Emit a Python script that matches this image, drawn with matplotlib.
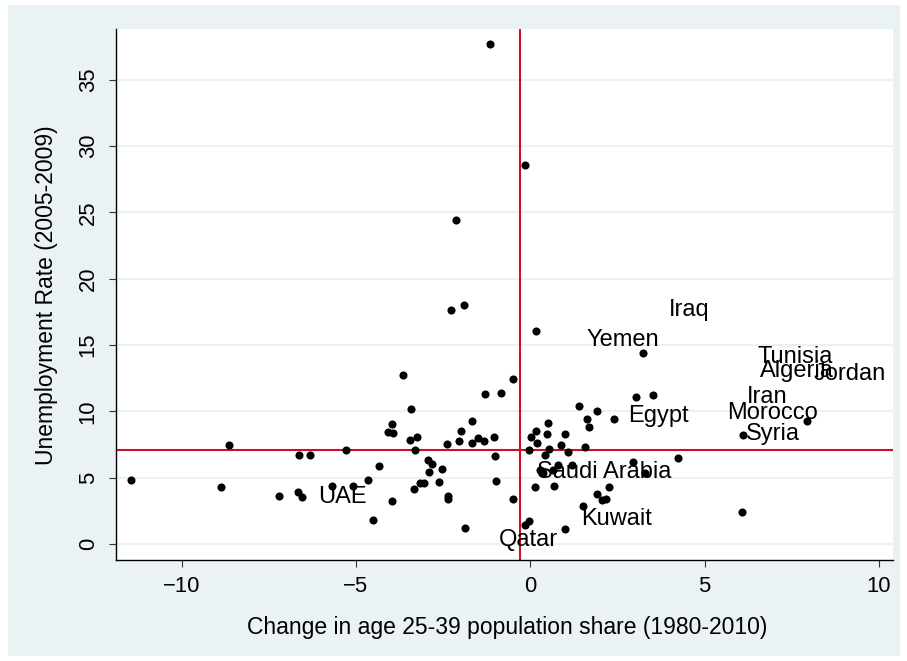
import matplotlib.pyplot as plt
from matplotlib.patches import Rectangle

plt.rcParams['font.family'] = ['Liberation Sans', 'DejaVu Sans']

# change in age 25-39 population share (1980-2010), one value per country
share_change = [-11.46, -8.88, -8.64, -7.22, -6.62, -6.32, -6.67, -6.54, -5.69, -5.28,
                -3.66, -3.43, -3.96, -4.07, -3.95, -3.45, -3.25, -3.30, -4.34, -4.66,
                -5.07, -3.97, -4.50, -2.93, -2.83, -2.54, -2.91, -3.33, -3.16, -3.05,
                -2.61, -2.35, -2.35, -1.87, -2.40, -2.04, -2.00, -1.68, -1.68, -1.51,
                -1.32, -1.04, -1.30, -0.84, -0.49, -1.01, -0.98, -0.49, -0.15, -0.04,
                -0.05, 0.02, 0.16, 0.20, 0.13, 1.39, 1.92, 1.63, 1.69, 2.40,
                0.51, 0.48, 1.00, 0.87, 0.54, 1.09, 1.58, 0.41, 0.80, 1.19,
                0.28, 0.37, 0.66, 0.68, 2.26, 1.90, 2.05, 2.17, 1.52, 0.99,
                3.24, 0.16, 3.03, 3.53, 2.95, 4.23, 3.29, 6.11, 7.92, 6.07,
                -1.16, -0.15, -2.14, -2.27, -1.89]

# unemployment rate (2005-2009)
unemployment = [4.82, 4.27, 7.46, 3.62, 6.71, 6.71, 3.90, 3.54, 4.37, 7.06,
                12.71, 10.15, 9.07, 8.46, 8.34, 7.84, 8.09, 7.08, 5.88, 4.82,
                4.37, 3.24, 1.79, 6.33, 6.03, 5.65, 5.45, 4.14, 4.57, 4.57,
                4.65, 3.62, 3.39, 1.21, 7.54, 7.74, 8.54, 9.27, 7.59, 8.01,
                7.74, 8.09, 11.30, 11.36, 12.46, 6.63, 4.72, 3.37, 1.41, 1.73,
                7.08, 8.04, 8.54, 7.59, 4.32, 10.40, 10.02, 9.42, 8.84, 9.40,
                9.14, 8.27, 8.31, 7.46, 7.14, 6.96, 7.29, 6.71, 5.95, 5.95,
                5.58, 5.33, 5.58, 4.39, 4.30, 3.75, 3.32, 3.39, 2.86, 1.11,
                14.42, 16.07, 11.06, 11.23, 6.20, 6.50, 5.33, 8.21, 9.29, 2.41,
                37.70, 28.54, 24.42, 17.63, 18.01]

# MENA labels (label layer drawn without markers)
mena_names = ['Iraq', 'Yemen', 'Egypt', 'Saudi Arabia', 'Kuwait', 'Qatar', 'UAE',
              'Tunisia', 'Algeria', 'Jordan', 'Iran', 'Morocco', 'Syria']
mena_x = [3.98, 1.62, 2.81, 0.19, 1.45, -0.90, -6.09, 6.51, 6.59, 8.11, 6.20, 5.65, 6.18]
mena_y = [17.63, 15.37, 9.65, 5.45, 1.88, 0.30, 3.54, 14.07, 13.06, 12.79, 11.05, 9.89, 8.29]

# sample means (reference lines)
x_mean = -0.30
y_mean = 7.06

W, H = 907, 661
fig = plt.figure(figsize=(W / 100, H / 100), dpi=100)
fig.patch.set_facecolor('white')
bg = Rectangle((8 / W, 1 - 656 / H), 892 / W, 651 / H, transform=fig.transFigure,
               facecolor='#EAF2F3', edgecolor='none')
bg.set_zorder(-1)
fig.add_artist(bg)

ax = fig.add_axes([116 / W, 1 - 560 / H, 777 / W, 530.7 / H])
ax.set_facecolor('white')

ax.scatter(share_change, unemployment, s=34, c='black', linewidths=0, zorder=3)
ax.axvline(x_mean, color='#C8102E', lw=1.5, zorder=2)
ax.axhline(y_mean, color='#C8102E', lw=1.5, zorder=2)

for name, x, y in zip(mena_names, mena_x, mena_y):
    ax.text(x, y, name, ha='left', va='center', fontsize=17, zorder=4)

ax.set_xlim(-11.88, 10.40)
ax.set_ylim(-1.206, 38.79)
ax.set_xticks([-10, -5, 0, 5, 10])
ax.set_yticks([0, 5, 10, 15, 20, 25, 30, 35])
ax.yaxis.grid(True, color='#EAF2F3', lw=1.5)
ax.set_axisbelow(True)

for s in ['top', 'right']:
    ax.spines[s].set_visible(False)
for s in ['left', 'bottom']:
    ax.spines[s].set_color('black')
    ax.spines[s].set_linewidth(1.0)

ax.tick_params(axis='x', length=5, width=0.8, color='#333333', pad=6.5, labelsize=15.8)
ax.tick_params(axis='y', length=5, width=0.8, color='#333333', pad=7.5, labelsize=15.8,
               labelrotation=90)
for lab in ax.get_yticklabels():
    lab.set_va('center')

fig.text(507 / W, 1 - 634 / H, 'Change in age 25-39 population share (1980-2010)',
         ha='center', va='baseline', fontsize=16.5)
fig.text(53 / W, 1 - 295 / H, 'Unemployment Rate (2005-2009)', rotation=90,
         rotation_mode='anchor', ha='center', va='baseline', fontsize=16.5)

fig.savefig('out.png', dpi=100)
